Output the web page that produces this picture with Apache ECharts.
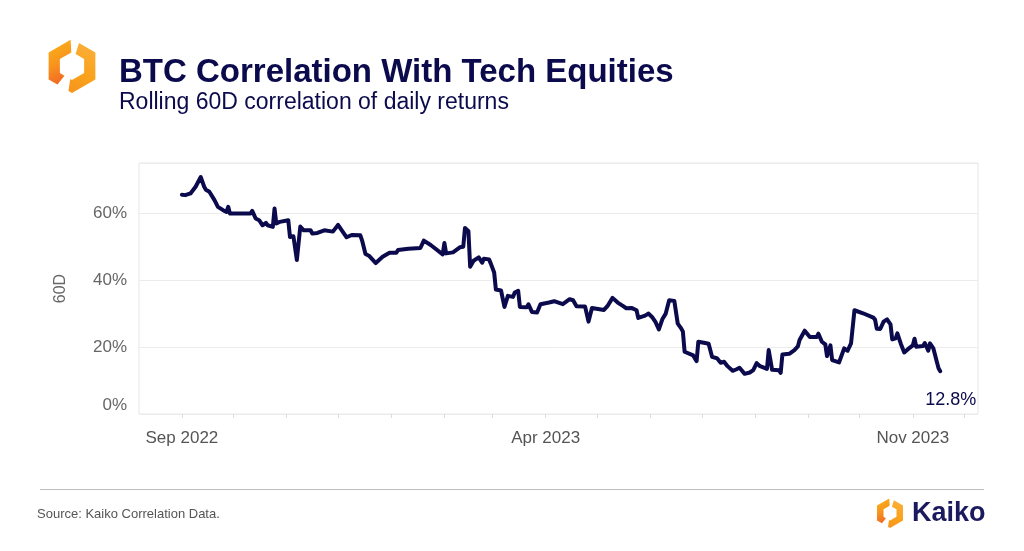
<!DOCTYPE html>
<html>
<head>
<meta charset="utf-8">
<script src="https://cdn.jsdelivr.net/npm/echarts@6/dist/echarts.min.js"></script>
<style>
  html, body { margin: 0; padding: 0; background: #ffffff; }
  #chart { width: 1024px; height: 551px; }
</style>
</head>
<body>
<div id="chart"></div>
<script>
// ---- Data ----
const dates = [
  '2022-09-01','2022-09-03','2022-09-06','2022-09-09','2022-09-12','2022-09-14','2022-09-15','2022-09-17',
  '2022-09-20','2022-09-21','2022-09-22','2022-09-25','2022-09-27','2022-09-28','2022-09-29','2022-10-11',
  '2022-10-12','2022-10-14','2022-10-16','2022-10-18','2022-10-19','2022-10-20','2022-10-21','2022-10-24',
  '2022-10-25','2022-10-26','2022-10-28','2022-11-02','2022-11-03','2022-11-05','2022-11-07','2022-11-09',
  '2022-11-11','2022-11-15','2022-11-16','2022-11-19','2022-11-23','2022-11-28','2022-12-01','2022-12-06',
  '2022-12-09','2022-12-14','2022-12-15','2022-12-17','2022-12-19','2022-12-23','2022-12-27','2022-12-31',
  '2023-01-04','2023-01-05','2023-01-11','2023-01-18','2023-01-20','2023-01-24','2023-01-31','2023-02-01',
  '2023-02-02','2023-02-06','2023-02-10','2023-02-12','2023-02-13','2023-02-15','2023-02-16','2023-02-18',
  '2023-02-21','2023-02-23','2023-02-24','2023-02-27','2023-02-28','2023-03-02','2023-03-03','2023-03-06',
  '2023-03-08','2023-03-10','2023-03-13','2023-03-14','2023-03-16','2023-03-17','2023-03-21','2023-03-22',
  '2023-03-24','2023-03-27','2023-03-29','2023-04-03','2023-04-06','2023-04-11','2023-04-15','2023-04-17',
  '2023-04-19','2023-04-24','2023-04-26','2023-04-28','2023-05-05','2023-05-07','2023-05-10','2023-05-13',
  '2023-05-16','2023-05-18','2023-05-21','2023-05-24','2023-05-25','2023-05-29','2023-05-31','2023-06-02',
  '2023-06-04','2023-06-06','2023-06-08','2023-06-10','2023-06-12','2023-06-15','2023-06-17','2023-06-19',
  '2023-06-20','2023-06-21','2023-06-26','2023-06-28','2023-06-29','2023-07-03','2023-07-05','2023-07-07',
  '2023-07-10','2023-07-12','2023-07-14','2023-07-16','2023-07-19','2023-07-21','2023-07-23','2023-07-26',
  '2023-07-29','2023-07-31','2023-08-02','2023-08-04','2023-08-08','2023-08-09','2023-08-10','2023-08-11',
  '2023-08-15','2023-08-16','2023-08-17','2023-08-21','2023-08-22','2023-08-24','2023-08-26','2023-08-27',
  '2023-08-30','2023-09-02','2023-09-06','2023-09-07','2023-09-09','2023-09-11','2023-09-12','2023-09-14',
  '2023-09-15','2023-09-19','2023-09-20','2023-09-22','2023-09-24','2023-09-26','2023-09-27','2023-09-28',
  '2023-10-03','2023-10-09','2023-10-10','2023-10-11','2023-10-13','2023-10-15','2023-10-17','2023-10-19',
  '2023-10-20','2023-10-22','2023-10-23','2023-10-25','2023-10-27','2023-10-29','2023-11-01','2023-11-02',
  '2023-11-03','2023-11-07','2023-11-08','2023-11-09','2023-11-10','2023-11-11','2023-11-13','2023-11-15',
  '2023-11-16','2023-11-17'
];
const correlation = [
  65.5,65.4,65.9,67.9,70.8,67.9,67.0,66.4,
  63.9,63.4,61.9,60.9,60.4,61.9,59.9,59.9,
  60.7,58.4,57.9,56.4,56.1,57.1,56.4,55.9,
  61.4,56.9,57.4,57.9,52.9,53.1,46.0,56.0,
  54.9,54.9,53.9,54.1,54.9,54.5,56.5,52.8,
  53.5,53.4,51.9,47.8,47.3,45.1,47.0,48.2,
  48.2,49.0,49.4,49.6,51.8,50.5,47.7,51.1,
  48.0,48.3,49.8,50.0,55.6,54.6,44.0,45.8,
  46.8,45.2,46.4,46.2,45.0,42.3,37.2,36.9,
  32.0,35.3,35.0,36.3,36.8,32.0,31.9,32.8,
  30.5,30.3,32.8,33.3,33.7,32.8,34.3,34.0,
  32.2,32.1,27.6,31.7,31.1,32.2,34.7,33.3,
  32.3,31.6,31.7,31.0,28.7,29.4,30.0,29.0,
  27.5,25.3,28.3,30.0,34.0,33.8,27.0,25.6,
  24.6,18.6,17.5,15.8,21.6,21.2,21.0,17.1,
  16.6,15.3,15.6,14.3,12.9,13.3,13.8,12.0,
  12.4,13.1,15.2,14.3,13.5,19.1,19.0,13.2,
  13.1,12.3,17.8,18.0,18.1,19.1,20.2,22.1,
  24.9,23.0,23.0,24.0,21.6,20.8,17.3,20.5,
  16.1,15.4,15.3,19.6,18.9,21.1,21.6,31.0,
  30.1,28.8,28.2,25.5,25.4,27.6,28.3,26.8,
  22.3,22.6,24.1,21.0,18.4,19.3,20.5,22.5,
  20.1,20.3,21.2,21.0,18.9,21.1,19.6,15.6,
  13.7,12.8
];
const yTicks = [0, 20, 40, 60];
const xLabelDates = ['2022-09-01', '2023-04-01', '2023-11-01'];
const monthTickDates = [
  '2022-09-01','2022-10-01','2022-11-01','2022-12-01','2023-01-01','2023-02-01','2023-03-01',
  '2023-04-01','2023-05-01','2023-06-01','2023-07-01','2023-08-01','2023-09-01','2023-10-01',
  '2023-11-01','2023-12-01'
];
const monthNames = ['Jan','Feb','Mar','Apr','May','Jun','Jul','Aug','Sep','Oct','Nov','Dec'];

// ---- Helpers ----
function ts(s) { const p = s.split('-').map(Number); return new Date(p[0], p[1] - 1, p[2]).getTime(); }
const NAVY = '#0b0a4c';
const FONT = '"Liberation Sans", Arial, Helvetica, sans-serif';

// hexagon ring piece (logo)
function hexR(R, rot, t) {
  let a = ((t - rot) % 60 + 60) % 60;
  return R * Math.cos(Math.PI / 6) / Math.cos((a - 30) * Math.PI / 180);
}
function hexPiece(cx, cy, R, r, rot, a1, a2) {
  const angs = [a1];
  let v = Math.ceil((a1 - rot) / 60) * 60 + rot;
  while (v < a2) { if (v > a1) angs.push(v); v += 60; }
  angs.push(a2);
  const pts = [];
  angs.forEach(t => {
    const rr = hexR(R, rot, t);
    pts.push([cx + rr * Math.cos(t * Math.PI / 180), cy - rr * Math.sin(t * Math.PI / 180)]);
  });
  angs.slice().reverse().forEach(t => {
    const rr = hexR(r, rot, t);
    pts.push([cx + rr * Math.cos(t * Math.PI / 180), cy - rr * Math.sin(t * Math.PI / 180)]);
  });
  return pts;
}
function logo(cx, cy, R, r) {
  return [
    { type: 'polygon', silent: true, shape: { points: hexPiece(cx, cy, R, r, 90, 93, 232) },
      style: { fill: new echarts.graphic.LinearGradient(0, 0, 1, 1, [
        { offset: 0, color: '#fdb515' }, { offset: 0.5, color: '#f7931e' }, { offset: 1, color: '#f15a24' }]) } },
    { type: 'polygon', silent: true, shape: { points: hexPiece(cx, cy, R, r, 90, 262, 433) },
      style: { fill: new echarts.graphic.LinearGradient(1, 0, 0, 1, [
        { offset: 0, color: '#fbb03b' }, { offset: 0.6, color: '#f9a21b' }, { offset: 1, color: '#f7931e' }]) } }
  ];
}

const seriesData = dates.map((d, i) => [ts(d), correlation[i]]);

const chart = echarts.init(document.getElementById('chart'), null, { renderer: 'canvas' });
chart.setOption({
  backgroundColor: '#ffffff',
  animation: false,
  textStyle: { fontFamily: FONT },
  title: {
    text: 'BTC Correlation With Tech Equities',
    subtext: 'Rolling 60D correlation of daily returns',
    left: 114, top: 51,
    itemGap: 2,
    textStyle: { fontFamily: FONT, fontSize: 33, fontWeight: 'bold', color: NAVY },
    subtextStyle: { fontFamily: FONT, fontSize: 23, color: NAVY }
  },
  grid: {
    left: 139, right: 46, top: 163, bottom: 137,
    show: true, borderColor: '#e6e6e6', borderWidth: 1
  },
  xAxis: {
    type: 'value',
    min: ts('2022-08-07'),
    max: ts('2023-12-09'),
    axisLine: { show: false },
    splitLine: { show: false },
    axisTick: {
      show: true, inside: false, length: 4,
      customValues: monthTickDates.map(ts),
      lineStyle: { color: '#dddddd', width: 1 }
    },
    axisLabel: {
      customValues: xLabelDates.map(ts),
      formatter: v => { const d = new Date(v); return monthNames[d.getMonth()] + ' ' + d.getFullYear(); },
      color: '#555555', fontSize: 17, fontFamily: FONT, margin: 16
    }
  },
  yAxis: {
    type: 'value',
    min: 0, max: 75, interval: 20,
    name: '60D', nameLocation: 'middle', nameRotate: 90, nameGap: 70,
    nameTextStyle: { color: '#666666', fontSize: 16, fontFamily: FONT },
    axisLine: { show: false },
    axisTick: { show: false },
    splitLine: { lineStyle: { color: '#ececec', width: 1 } },
    axisLabel: {
      showMaxLabel: false,
      color: '#666666', fontSize: 17, fontFamily: FONT, margin: 12,
      formatter: v => yTicks.indexOf(v) < 0 ? '' : (v === 0 ? '{z|0%}' : v + '%'),
      rich: { z: { color: '#666666', fontSize: 17, fontFamily: FONT, padding: [0, 0, 18, 0] } }
    }
  },
  series: [{
    type: 'line',
    data: seriesData,
    showSymbol: false,
    symbol: 'none',
    lineStyle: { color: NAVY, width: 4, join: 'round', cap: 'round' },
    endLabel: {
      show: true,
      formatter: p => p.value[1].toFixed(1) + '%',
      color: NAVY, fontSize: 18, fontFamily: FONT,
      align: 'left',
      offset: [-23, 29]
    }
  }],
  graphic: [].concat(
    logo(72, 66, 27, 14),
    [
      { type: 'line', silent: true, shape: { x1: 40, y1: 489.5, x2: 984, y2: 489.5 },
        style: { stroke: '#bdbdbd', lineWidth: 1 } },
      { type: 'text', silent: true, left: 37, top: 508,
        style: { text: 'Source: Kaiko Correlation Data.', fill: '#555555', fontSize: 13, fontFamily: FONT } },
      { type: 'text', silent: true, left: 912, top: 500,
        style: { text: 'Kaiko', fill: '#1b1a5e', fontSize: 27, fontWeight: 'bold', fontFamily: FONT } }
    ],
    logo(890, 513, 15, 7.5)
  )
});
</script>
</body>
</html>
